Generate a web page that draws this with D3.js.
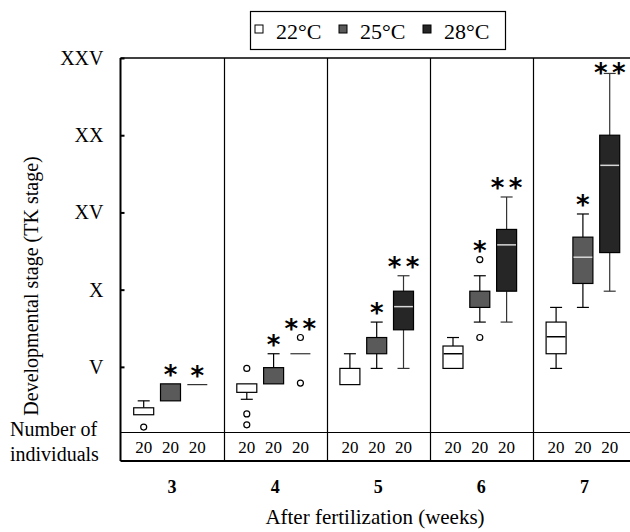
<!DOCTYPE html>
<html>
<head>
<meta charset="utf-8">
<script src="https://cdn.jsdelivr.net/npm/d3@7"></script>
<style>
  body { margin: 0; background: #fff; }
  svg { display: block; font-family: "Liberation Serif", "Times New Roman", serif; }
</style>
</head>
<body>
<div id="chart"></div>
<script>
// weeks after fertilization and temperature groups
var weeks = [3, 4, 5, 6, 7];
var temps = ["22°C", "25°C", "28°C"];
var yTickValues = [5, 10, 15, 20, 25];
var yTickLabels = ["V", "X", "XV", "XX", "XXV"];

// box stats per week: [low whisker, Q1, median, Q3, high whisker] (TK stage)
// median null = not drawn (falls on a box edge)
var box22 = [[1.9, 1.9, null, 2.35, 2.8],
             [2.9, 3.35, null, 3.9, 3.9],
             [3.85, 3.85, null, 4.9, 5.85],
             [4.9, 4.9, 5.85, 6.35, 6.9],
             [4.9, 5.85, 6.95, 7.9, 8.85]];
var box25 = [[2.8, 2.8, null, 3.9, 3.9],
             [3.9, 3.9, null, 4.95, 5.85],
             [4.9, 5.85, null, 6.9, 7.9],
             [7.9, 8.85, null, 9.9, 10.9],
             [8.85, 10.4, 12.1, 13.4, 14.9]];
var box28 = [[3.85, 3.85, 3.85, 3.85, 3.85],
             [5.85, 5.85, 5.85, 5.85, 5.85],
             [4.9, 7.4, 8.9, 9.9, 10.9],
             [7.9, 9.9, 12.9, 13.9, 16],
             [9.9, 12.4, 18.05, 20, 24]];

var outliers22 = [[1.1], [4.9, 1.95, 1.25], [], [], []];
var outliers25 = [[], [], [], [11.95, 6.9], []];
var outliers28 = [[], [6.9, 3.95], [], [], []];

var stars22 = ["", "", "", "", ""];
var stars25 = ["*", "*", "*", "*", "*"];
var stars28 = ["*", "**", "**", "**", "**"];

var counts22 = [20, 20, 20, 20, 20];
var counts25 = [20, 20, 20, 20, 20];
var counts28 = [20, 20, 20, 20, 20];

var boxes = [box22, box25, box28],
    outliers = [outliers22, outliers25, outliers28],
    stars = [stars22, stars25, stars28],
    counts = [counts22, counts25, counts28];

var fills = ["#ffffff", "#5a5a5a", "#262626"],
    medianColors = ["#000000", "#d8d8d8", "#d8d8d8"];

var width = 630, height = 532;
var plotLeft = 120.5, plotRight = 636, plotTop = 58, plotBottom = 461, tableTop = 432.5;
var boxW = 20, capW = 12;

var svg = d3.select("#chart").append("svg")
    .attr("width", width)
    .attr("height", height);

var x = d3.scaleBand()
    .domain(weeks)
    .range([plotLeft, plotRight]);

var xInner = d3.scalePoint()
    .domain(temps)
    .range([x.bandwidth() * 0.225, x.bandwidth() * 0.745]);

var y = d3.scaleLinear()
    .domain([0.75, 25])
    .range([tableTop, plotTop]);

// frame
var frame = svg.append("g").attr("stroke", "#000").attr("fill", "none");
frame.append("line").attr("x1", plotLeft).attr("x2", plotLeft).attr("y1", plotTop).attr("y2", plotBottom).attr("stroke-width", 2);
frame.append("line").attr("x1", plotLeft).attr("x2", width).attr("y1", plotTop).attr("y2", plotTop).attr("stroke-width", 1.5);
frame.append("line").attr("x1", plotLeft).attr("x2", width).attr("y1", tableTop).attr("y2", tableTop).attr("stroke-width", 1.2);
frame.append("line").attr("x1", plotLeft).attr("x2", width).attr("y1", plotBottom).attr("y2", plotBottom).attr("stroke-width", 2);
frame.selectAll(".divider")
    .data(weeks.slice(1))
    .enter().append("line")
    .attr("class", "divider")
    .attr("x1", function(d) { return Math.round(x(d)) + 0.5; })
    .attr("x2", function(d) { return Math.round(x(d)) + 0.5; })
    .attr("y1", plotTop)
    .attr("y2", plotBottom)
    .attr("stroke-width", 1.2);

// y axis (ticks inside)
var yAxis = d3.axisLeft(y)
    .tickValues(yTickValues)
    .tickFormat(function(d, i) { return yTickLabels[i]; })
    .tickSizeInner(-4)
    .tickSizeOuter(0)
    .tickPadding(17);

var gy = svg.append("g")
    .attr("transform", "translate(" + plotLeft + ",0)")
    .call(yAxis);
gy.select(".domain").remove();
gy.selectAll("line").attr("stroke-width", 2);
gy.selectAll("text")
    .attr("font-family", "Liberation Serif, serif")
    .attr("font-size", 20)
    .attr("fill", "#000");

// x axis: week numbers
var xAxis = d3.axisBottom(x).tickSize(0).tickPadding(19);
var gx = svg.append("g")
    .attr("transform", "translate(0," + plotBottom + ")")
    .call(xAxis);
gx.select(".domain").remove();
gx.selectAll("text")
    .attr("font-family", "Liberation Serif, serif")
    .attr("font-size", 18)
    .attr("font-weight", "bold")
    .attr("fill", "#000");

// boxes
temps.forEach(function(t, ti) {
    var g = svg.append("g").attr("class", "temp-" + ti);

    weeks.forEach(function(w, wi) {
        var s = boxes[ti][wi];
        var cx = x(w) + xInner(t);
        var lo = s[0], q1 = s[1], med = s[2], q3 = s[3], hi = s[4];
        var wColor = ti === 2 ? "#333" : "#000";

        // whiskers
        if (hi > q3) {
            g.append("line").attr("x1", cx).attr("x2", cx).attr("y1", y(q3)).attr("y2", y(hi))
                .attr("stroke", wColor).attr("stroke-width", 1.2);
            g.append("line").attr("x1", cx - capW / 2).attr("x2", cx + capW / 2).attr("y1", y(hi)).attr("y2", y(hi))
                .attr("stroke", wColor).attr("stroke-width", 1.2);
        }
        if (lo < q1) {
            g.append("line").attr("x1", cx).attr("x2", cx).attr("y1", y(q1)).attr("y2", y(lo))
                .attr("stroke", wColor).attr("stroke-width", 1.2);
            g.append("line").attr("x1", cx - capW / 2).attr("x2", cx + capW / 2).attr("y1", y(lo)).attr("y2", y(lo))
                .attr("stroke", wColor).attr("stroke-width", 1.2);
        }

        if (q3 > q1) {
            g.append("rect")
                .attr("x", cx - boxW / 2)
                .attr("y", y(q3))
                .attr("width", boxW)
                .attr("height", y(q1) - y(q3))
                .attr("fill", fills[ti])
                .attr("stroke", "#000")
                .attr("stroke-width", 1.2);
            if (med != null && med > q1 && med < q3) {
                g.append("line").attr("x1", cx - boxW / 2 + 0.6).attr("x2", cx + boxW / 2 - 0.6)
                    .attr("y1", y(med)).attr("y2", y(med))
                    .attr("stroke", medianColors[ti]).attr("stroke-width", 1.5);
            }
        } else {
            // all values equal: a single line
            g.append("line").attr("x1", cx - boxW / 2).attr("x2", cx + boxW / 2)
                .attr("y1", y(q1)).attr("y2", y(q1))
                .attr("stroke", "#333").attr("stroke-width", 1.2);
        }

        // outliers
        g.selectAll(".out-" + wi)
            .data(outliers[ti][wi])
            .enter().append("circle")
            .attr("class", "out-" + wi)
            .attr("cx", cx)
            .attr("cy", function(d) { return y(d); })
            .attr("r", 3)
            .attr("fill", "#fff")
            .attr("stroke", "#000")
            .attr("stroke-width", 1.2);

        // significance stars
        var st = stars[ti][wi];
        if (st) {
            var topVal = d3.max([hi].concat(outliers[ti][wi]));
            var sy = Math.max(y(topVal) - 14, plotTop + 10);
            var n = st.length;
            for (var k = 0; k < n; k++) {
                g.append("text")
                    .attr("x", cx + (k - (n - 1) / 2) * 18)
                    .attr("y", sy + 14)
                    .attr("text-anchor", "middle")
                    .attr("font-family", "DejaVu Sans, sans-serif")
                    .attr("font-weight", "bold")
                    .attr("font-size", 26)
                    .text("*");
            }
        }

        // count row
        svg.append("text")
            .attr("x", cx)
            .attr("y", 453)
            .attr("text-anchor", "middle")
            .attr("font-size", 17)
            .text(counts[ti][wi]);
    });
});

// legend
var legend = svg.append("g");
legend.append("rect")
    .attr("x", 250.5).attr("y", 11.5)
    .attr("width", 255).attr("height", 38)
    .attr("fill", "#fff").attr("stroke", "#000").attr("stroke-width", 1.2);
temps.forEach(function(t, i) {
    var lx = 255 + i * 84;
    legend.append("rect")
        .attr("x", lx).attr("y", 25)
        .attr("width", 8).attr("height", 8)
        .attr("fill", fills[i]).attr("stroke", "#000").attr("stroke-width", 1);
    legend.append("text")
        .attr("x", lx + 21).attr("y", 39)
        .attr("font-size", 22)
        .text(t);
});

// axis titles
svg.append("text")
    .attr("transform", "translate(38,286) rotate(-90)")
    .attr("text-anchor", "middle")
    .attr("font-size", 20)
    .text("Developmental stage (TK stage)");

svg.append("text")
    .attr("x", 10).attr("y", 436)
    .attr("font-size", 20)
    .text("Number of");
svg.append("text")
    .attr("x", 10).attr("y", 461)
    .attr("font-size", 20)
    .text("individuals");

svg.append("text")
    .attr("x", 375).attr("y", 524)
    .attr("text-anchor", "middle")
    .attr("font-size", 21)
    .text("After fertilization (weeks)");
</script>
</body>
</html>
